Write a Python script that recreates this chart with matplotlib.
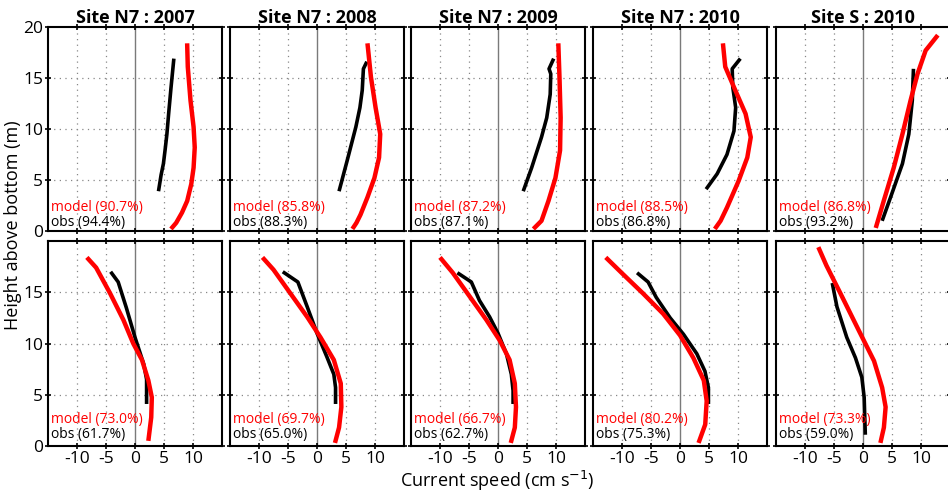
import matplotlib
matplotlib.use("Agg")
import matplotlib.pyplot as plt

plt.rcParams['font.family'] = ['Open Sans', 'DejaVu Sans']
plt.rcParams['axes.unicode_minus'] = False

titles = ["Site N7 : 2007", "Site N7 : 2008", "Site N7 : 2009", "Site N7 : 2010", "Site S : 2010"]

# top row: observed / modelled current speed profiles (cm/s) vs height (m)
obs_top_x = [[4.05, 4.5, 4.9, 5.2, 5.5, 5.8, 6.2, 6.7],
             [3.8, 5.2, 6.7, 7.4, 7.8, 8.0, 8.6],
             [4.35, 5.8, 7.5, 8.4, 9.0, 9.1, 8.8, 9.6],
             [4.5, 6.4, 8.1, 9.3, 9.6, 9.1, 9.0, 10.4],
             [3.3, 4.75, 6.8, 7.9, 8.5, 8.7]]
obs_top_z = [[3.9, 5.5, 6.6, 8.0, 9.5, 11.5, 14.0, 16.9],
             [3.9, 6.9, 10.2, 12.1, 13.8, 15.9, 16.6],
             [3.9, 6.2, 9.2, 11.1, 13.4, 15.4, 15.9, 16.9],
             [4.1, 5.6, 7.5, 9.8, 12.1, 14.1, 15.9, 16.9],
             [1.0, 3.3, 6.6, 9.5, 12.8, 15.9]]
mod_top_x = [[6.2, 7.1, 8.1, 9.0, 9.7, 10.1, 10.3, 10.1, 9.57, 9.1, 8.99],
             [6.1, 6.8, 7.5, 8.7, 9.9, 10.7, 10.9, 10.1, 9.3, 8.7],
             [6.1, 7.5, 8.7, 9.9, 10.7, 10.8, 10.6, 10.4],
             [6.0, 7.0, 8.1, 10.1, 11.6, 12.2, 11.3, 9.3, 7.8, 7.4],
             [2.2, 3.6, 5.3, 6.8, 8.2, 9.4, 10.8, 12.9]]
mod_top_z = [[0.2, 0.8, 1.8, 2.95, 4.6, 6.2, 8.2, 10.2, 12.8, 16.1, 18.4],
             [0.2, 0.8, 1.6, 3.3, 5.2, 7.2, 9.5, 12.1, 15.1, 18.4],
             [0.2, 1.0, 2.95, 5.2, 7.9, 11.1, 15.1, 18.4],
             [0.2, 1.0, 2.3, 4.9, 7.2, 9.2, 11.5, 14.1, 16.1, 18.4],
             [0.3, 3.0, 6.2, 9.5, 12.8, 15.4, 17.7, 19.2]]

# bottom row
obs_bot_x = [[-4.2, -2.9, -1.5, 0.0, 1.5, 2.0, 2.0],
             [-5.9, -3.3, -1.7, 0.0, 1.7, 2.9, 3.2, 3.2],
             [-7.0, -4.6, -3.2, -1.45, 0.0, 1.45, 2.3, 2.6, 2.6],
             [-7.4, -5.5, -4.1, -1.7, 0.6, 2.9, 4.3, 4.9, 4.9],
             [-5.3, -4.5, -2.8, -1.3, -0.2, 0.2, 0.4]]
obs_bot_z = [[17.0, 16.0, 13.5, 10.6, 8.0, 6.5, 4.1],
             [17.0, 16.0, 13.6, 11.0, 8.7, 7.0, 5.7, 4.1],
             [16.9, 16.0, 14.2, 12.6, 11.0, 9.0, 7.0, 5.4, 4.1],
             [16.9, 16.0, 14.5, 12.5, 10.9, 9.0, 7.3, 5.7, 4.1],
             [15.9, 13.6, 10.6, 8.6, 6.7, 4.75, 1.1]]
mod_bot_x = [[-8.3, -6.7, -4.3, -2.0, -0.3, 1.2, 2.3, 2.9, 2.8, 2.3],
             [-9.4, -7.5, -4.6, -1.7, 0.6, 2.9, 4.1, 4.2, 3.8, 3.1],
             [-10.0, -7.8, -4.9, -2.0, 0.3, 2.0, 2.9, 3.1, 2.9, 2.2],
             [-12.8, -9.9, -6.4, -2.9, 0.0, 2.3, 4.1, 4.6, 4.35, 3.2],
             [-7.7, -6.3, -3.9, -0.75, 1.9, 3.3, 3.9, 3.6, 3.0]]
mod_bot_z = [[18.4, 17.4, 14.9, 12.3, 10.0, 8.4, 6.4, 4.75, 2.8, 0.5],
             [18.4, 17.2, 14.9, 12.6, 10.6, 8.4, 6.1, 3.8, 1.8, 0.3],
             [18.4, 16.9, 14.6, 12.3, 10.3, 8.4, 6.1, 3.8, 1.8, 0.3],
             [18.4, 16.8, 14.9, 12.9, 10.8, 8.6, 6.4, 4.4, 2.1, 0.3],
             [19.4, 17.6, 14.9, 11.3, 8.3, 5.7, 3.8, 1.8, 0.3]]

model_top = ["90.7", "85.8", "87.2", "88.5", "86.8"]
obs_top = ["94.4", "88.3", "87.1", "86.8", "93.2"]
model_bot = ["73.0", "69.7", "66.7", "80.2", "73.3"]
obs_bot = ["61.7", "65.0", "62.7", "75.3", "59.0"]

W, H = 948, 492
fig = plt.figure(figsize=(W / 100, H / 100), dpi=100)

lefts = [48, 230, 411, 593, 776]
pw = 174
rows = [(27, 231), (241, 446)]

def setup(ax, col, row):
    ax.set_xlim(-15, 15)
    ax.set_ylim(0, 20)
    ax.set_xticks([-10, -5, 0, 5, 10])
    ax.set_yticks([0, 5, 10, 15, 20] if row == 0 else [0, 5, 10, 15])
    for v in [-10, -5, 5, 10]:
        ax.axvline(v, color='#888888', lw=0.9, ls=(0, (1, 3.5)), zorder=1)
    for v in [5, 10, 15]:
        ax.axhline(v, color='#888888', lw=0.9, ls=(0, (1, 3.5)), zorder=1)
    ax.axvline(0, color='#7a7a7a', lw=1.0, zorder=1)
    ax.tick_params(direction='inout', length=4, width=1.2, top=True, right=True,
                   labelsize=12.5, pad=1.5, colors='black')
    if row == 0:
        ax.tick_params(labelbottom=False)
    if col > 0:
        ax.tick_params(labelleft=False)
    for s in ax.spines.values():
        s.set_linewidth(1.5)

for row in range(2):
    t, b = rows[row]
    for col in range(5):
        ax = fig.add_axes([lefts[col] / W, 1 - b / H, pw / W, (b - t) / H])
        setup(ax, col, row)
        if row == 0:
            ax.plot(obs_top_x[col], obs_top_z[col], color='black', lw=2.6,
                    solid_capstyle='butt', zorder=3)
            ax.plot(mod_top_x[col], mod_top_z[col], color='#ff0000', lw=3.2,
                    solid_capstyle='butt', zorder=4)
            ax.set_title(titles[col], fontsize=13, fontweight='bold', pad=3)
            m, o = model_top[col], obs_top[col]
            ym, yo = 0.117, 0.044
        else:
            ax.plot(obs_bot_x[col], obs_bot_z[col], color='black', lw=2.6,
                    solid_capstyle='butt', zorder=3)
            ax.plot(mod_bot_x[col], mod_bot_z[col], color='#ff0000', lw=3.2,
                    solid_capstyle='butt', zorder=4)
            m, o = model_bot[col], obs_bot[col]
            ym, yo = 0.131, 0.058
        ax.text(0.02, ym, f"model ({m}%)", color='#ff0000', fontsize=10,
                transform=ax.transAxes, va='center', ha='left')
        ax.text(0.02, yo, f"obs ({o}%)", color='black', fontsize=10,
                transform=ax.transAxes, va='center', ha='left')

fig.text(13 / W, 1 - 225 / H, "Height above bottom (m)", rotation=90,
         ha='center', va='center', fontsize=13)
fig.text(497 / W, 1 - 481 / H, "Current speed (cm s$^{-1}$)",
         ha='center', va='center', fontsize=13)

fig.savefig("out.png", dpi=100)
